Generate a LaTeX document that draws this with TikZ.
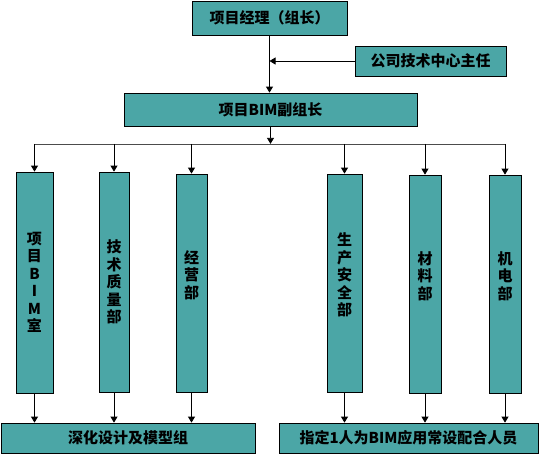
\documentclass[tikz,border=0pt]{standalone}
\usepackage{fontspec}
\setmainfont{Noto Sans CJK SC}
\usetikzlibrary{arrows.meta}
\definecolor{boxteal}{RGB}{75,166,166}
\begin{document}
\begin{tikzpicture}[x=1pt, y=-1pt,
    box/.style={draw, fill=boxteal, line width=0.8pt, inner sep=0pt,
        font=\fontsize{15}{17.5}\selectfont\bfseries},
    col/.style={box, align=center},
    link/.style={line width=0.8pt, -{Triangle[length=6pt,width=7pt]}},
    busline/.style={line width=0.8pt, draw=black!70}]
\useasboundingbox (0,0) rectangle (539,456);

%% Top of the chart
\node[box, minimum width=155pt, minimum height=34pt] (top) at (269.5,18) {项目经理（组长）};
\node[box, minimum width=151pt, minimum height=30pt] (side) at (430.5,61) {公司技术中心主任};
\node[box, minimum width=293pt, minimum height=33pt] (vice) at (270.5,109.5) {项目BIM副组长};

%% Columns
\node[col, minimum width=37pt, minimum height=221pt] (col1) at (34.5,282.5) {项\\目\\B\\I\\M\\室};
\node[col, minimum width=30pt, minimum height=220pt] (col2) at (114,282) {技\\术\\质\\量\\部};
\node[col, minimum width=31pt, minimum height=218pt] (col3) at (191.5,283) {经\\营\\部\\~};
\node[col, minimum width=35pt, minimum height=218pt] (col4) at (344.5,283) {生\\产\\安\\全\\部\\~};
\node[col, minimum width=32pt, minimum height=218pt] (col5) at (425,284) {材\\料\\部\\~};
\node[col, minimum width=32pt, minimum height=218pt] (col6) at (505,284) {机\\电\\部\\~};

%% Bottom groups
\node[box, minimum width=254pt, minimum height=30pt] (left) at (128,438) {深化设计及模型组};
\node[box, minimum width=259pt, minimum height=30pt] (right) at (408.5,438) {指定1人为BIM应用常设配合人员};

%% Connectors
\draw[link] (top.south) -- (top.south |- vice.north);
\draw[link] (side.west) -- (side.west -| top.south);
\coordinate (bus) at ([yshift=-17.5pt]vice.south);
\draw[link] (vice.south) -- (bus);
\draw[busline] (bus -| col1.north) -- (bus -| col6.north);
\foreach \c in {col1,col2,col3,col4,col5,col6}
    \draw[link] (bus -| \c.north) -- (\c.north);
\foreach \c in {col1,col2,col3}
    \draw[link] (\c.south) -- (\c.south |- left.north);
\foreach \c in {col4,col5,col6}
    \draw[link] (\c.south) -- (\c.south |- right.north);
\end{tikzpicture}
\end{document}
